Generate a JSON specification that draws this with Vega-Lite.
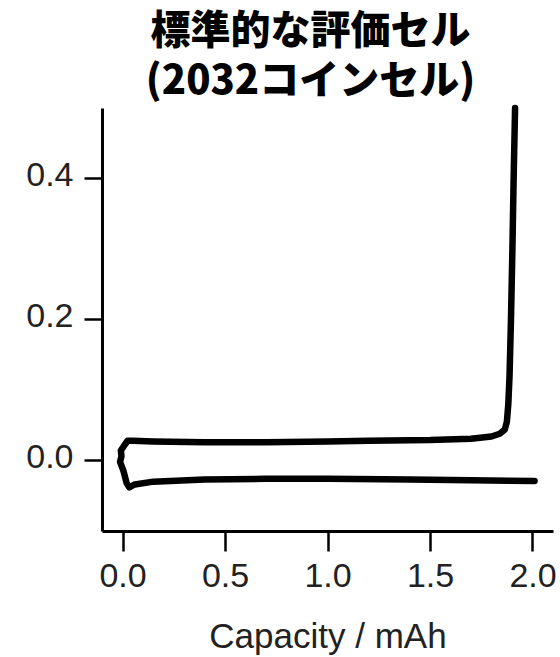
{
  "$schema": "https://vega.github.io/schema/vega-lite/v6.json",
  "width": 451,
  "height": 423,
  "autosize": "none",
  "padding": {"left": 102, "top": 108, "right": 7, "bottom": 126},
  "background": "white",
  "title": {
    "text": ["標準的な評価セル", "(2032コインセル)"],
    "font": "Noto Sans CJK JP",
    "fontSize": 40,
    "fontWeight": 900,
    "lineHeight": 50,
    "color": "black",
    "anchor": "middle",
    "dx": -17,
    "offset": 3
  },
  "config": {
    "view": {"stroke": null},
    "axis": {
      "grid": false,
      "domainColor": "black",
      "domainWidth": 3,
      "tickColor": "black",
      "tickWidth": 2.5,
      "labelFont": "Liberation Sans",
      "labelFontSize": 34,
      "labelColor": "#222",
      "titleFont": "Liberation Sans",
      "titleFontSize": 35,
      "titleFontWeight": "normal",
      "titleColor": "#222"
    }
  },
  "data": {
    "values": [
      {"i": 1, "capacity": 1.915, "voltage": 0.5},
      {"i": 2, "capacity": 1.908, "voltage": 0.4},
      {"i": 3, "capacity": 1.902, "voltage": 0.3},
      {"i": 4, "capacity": 1.895, "voltage": 0.2},
      {"i": 5, "capacity": 1.888, "voltage": 0.12},
      {"i": 6, "capacity": 1.882, "voltage": 0.08},
      {"i": 7, "capacity": 1.875, "voltage": 0.055},
      {"i": 8, "capacity": 1.865, "voltage": 0.044},
      {"i": 9, "capacity": 1.84, "voltage": 0.038},
      {"i": 10, "capacity": 1.8, "voltage": 0.034},
      {"i": 11, "capacity": 1.7, "voltage": 0.031},
      {"i": 12, "capacity": 1.5, "voltage": 0.029},
      {"i": 13, "capacity": 1.2, "voltage": 0.028},
      {"i": 14, "capacity": 1.0, "voltage": 0.027},
      {"i": 15, "capacity": 0.7, "voltage": 0.026},
      {"i": 16, "capacity": 0.4, "voltage": 0.026},
      {"i": 17, "capacity": 0.15, "voltage": 0.027},
      {"i": 18, "capacity": 0.05, "voltage": 0.028},
      {"i": 19, "capacity": 0.025, "voltage": 0.028},
      {"i": 20, "capacity": 0.01, "voltage": 0.022},
      {"i": 21, "capacity": -0.008, "voltage": 0.014},
      {"i": 22, "capacity": -0.005, "voltage": 0.006},
      {"i": 23, "capacity": -0.012, "voltage": -0.002},
      {"i": 24, "capacity": 0.005, "voltage": -0.015},
      {"i": 25, "capacity": 0.02, "voltage": -0.032},
      {"i": 26, "capacity": 0.033, "voltage": -0.038},
      {"i": 27, "capacity": 0.06, "voltage": -0.034},
      {"i": 28, "capacity": 0.15, "voltage": -0.03},
      {"i": 29, "capacity": 0.4, "voltage": -0.027},
      {"i": 30, "capacity": 0.7, "voltage": -0.026},
      {"i": 31, "capacity": 1.0, "voltage": -0.026},
      {"i": 32, "capacity": 1.4, "voltage": -0.027},
      {"i": 33, "capacity": 1.7, "voltage": -0.028},
      {"i": 34, "capacity": 2.01, "voltage": -0.029}
    ]
  },
  "mark": {
    "type": "line",
    "color": "black",
    "strokeWidth": 6.5,
    "strokeCap": "round",
    "strokeJoin": "round",
    "clip": false
  },
  "encoding": {
    "x": {
      "field": "capacity",
      "type": "quantitative",
      "scale": {"domain": [-0.1, 2.1], "nice": false, "zero": false},
      "axis": {
        "title": "Capacity / mAh",
        "values": [0, 0.5, 1, 1.5, 2],
        "format": ".1f",
        "tickSize": 20,
        "labelPadding": 8,
        "titlePadding": 26
      }
    },
    "y": {
      "field": "voltage",
      "type": "quantitative",
      "scale": {"domain": [-0.1, 0.5], "nice": false, "zero": false},
      "axis": {
        "title": null,
        "values": [0, 0.2, 0.4],
        "format": ".1f",
        "tickSize": 18,
        "labelPadding": 11,
        "labelOffset": -3
      }
    },
    "order": {"field": "i", "type": "quantitative"}
  }
}
